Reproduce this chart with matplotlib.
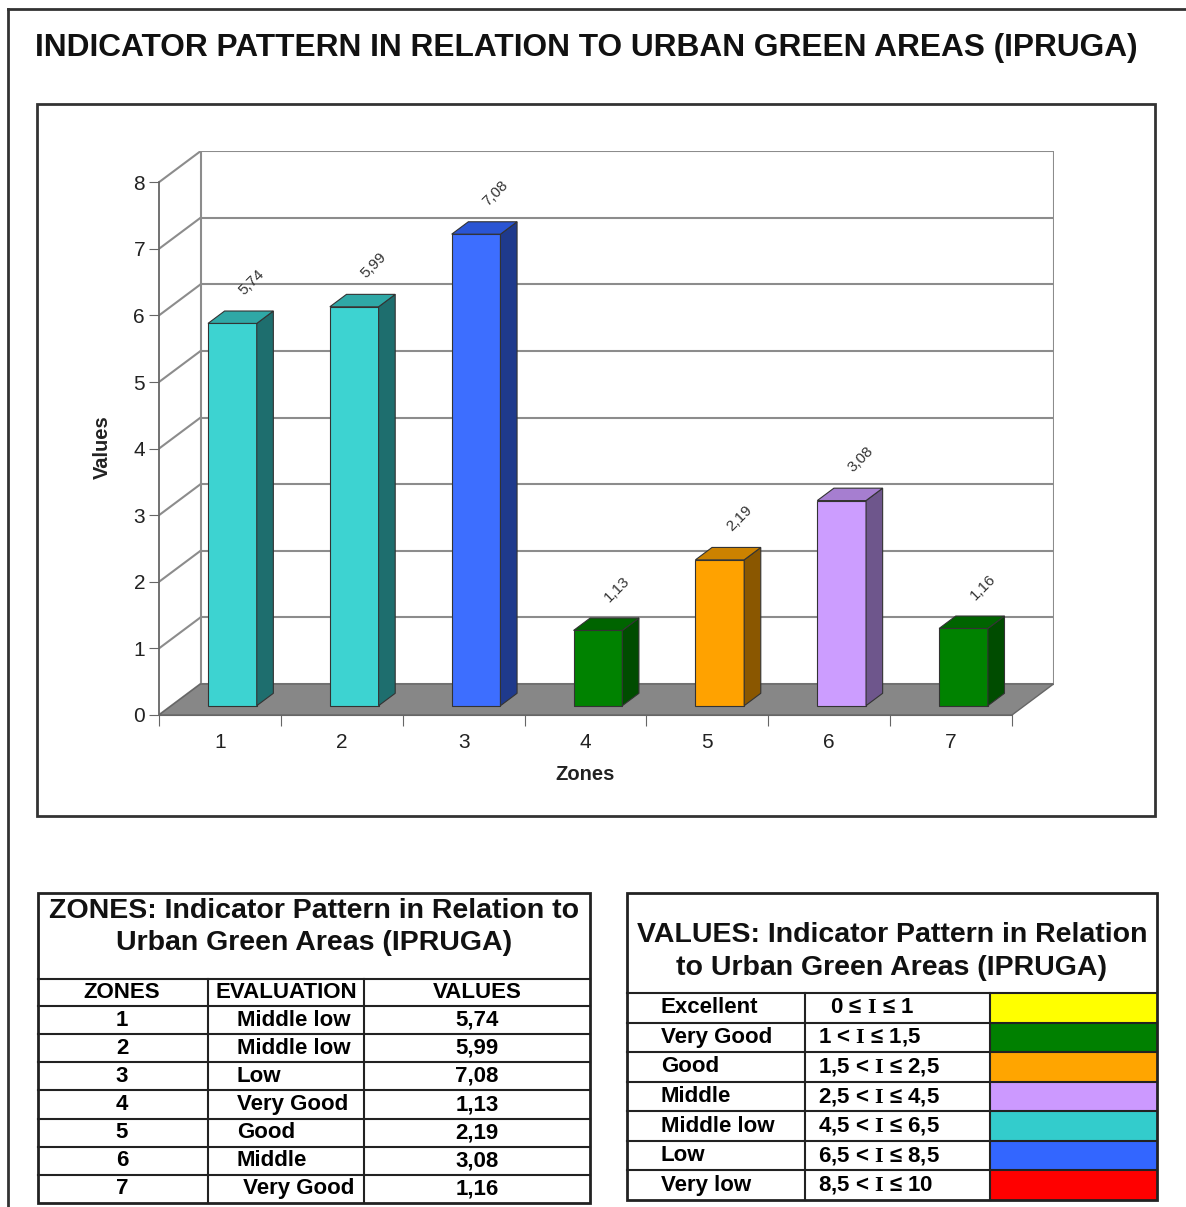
import numpy as np
import matplotlib
matplotlib.use("Agg")
import matplotlib.pyplot as plt
from matplotlib.patches import Polygon, Rectangle

plt.rcParams['font.family'] = ['Liberation Sans', 'DejaVu Sans']
plt.rcParams['mathtext.fontset'] = 'custom'
plt.rcParams['mathtext.bf'] = 'Liberation Serif:bold'

# ---- data ----
zones = [1, 2, 3, 4, 5, 6, 7]
values = [5.74, 5.99, 7.08, 1.13, 2.19, 3.08, 1.16]
evaluation = ["Middle low", "Middle low", "Low", "Very Good", "Good", "Middle", " Very Good"]
front_col = ["#3dd3d1", "#3dd3d1", "#3d6eff", "#008200", "#ffa200", "#cc9dff", "#008200"]
side_col = ["#1e6e6e", "#1e6e6e", "#1f3a8c", "#004c00", "#8a5700", "#6e568c", "#004c00"]
top_col = ["#2fa8a6", "#2fa8a6", "#2a55d4", "#006400", "#cc8200", "#a67ed0", "#006400"]

classes = ["Excellent", "Very Good", "Good", "Middle", "Middle low", "Low", "Very low"]
ranges = [r"  0 ≤ $\mathbf{I}$ ≤ 1", r"1 < $\mathbf{I}$ ≤ 1,5", r"1,5 < $\mathbf{I}$ ≤ 2,5",
          r"2,5 < $\mathbf{I}$ ≤ 4,5", r"4,5 < $\mathbf{I}$ ≤ 6,5", r"6,5 < $\mathbf{I}$ ≤ 8,5",
          r"8,5 < $\mathbf{I}$ ≤ 10"]
class_col = ["#ffff00", "#008000", "#ffa500", "#cc99ff", "#33cccc", "#3366ff", "#ff0000"]

W, H = 1186, 1207
fig = plt.figure(figsize=(W / 100, H / 100), dpi=100)

# overlay in pixel coords for frames and tables
ov = fig.add_axes([0, 0, 1, 1], zorder=0)
ov.set_xlim(0, W)
ov.set_ylim(H, 0)
ov.axis('off')

# outer frame (top + left)
ov.plot([8, W], [9, 9], color='#333', lw=2)
ov.plot([8, 8], [9, H], color='#333', lw=2)
ov.text(35, 48, "INDICATOR PATTERN IN RELATION TO URBAN GREEN AREAS (IPRUGA)",
        fontsize=22.8, fontweight='bold', va='center', ha='left', color='#111')
ov.add_patch(Rectangle((37, 104), 1155 - 37, 816 - 104, fill=False, ec='#333', lw=2))

# ---- 3d-look bar chart ----
x0px, x1px, y0px, ppu = 159, 1012, 715, 66.6
ppc = (x1px - x0px) / 7.0
ox = 41.5 / ppc      # depth offset in category units
oy = 31.0 / ppu      # depth offset in value units
f0, f1 = 0.3, 0.7
bw = 0.4
ymax = 8

ax = fig.add_axes([x0px / W, (H - y0px) / H, (x1px + 41.5 - x0px) / W, (ymax * ppu + 31) / H], zorder=1)
ax.set_xlim(0.5, 7.5 + ox)
ax.set_ylim(0, ymax + oy)
ax.patch.set_alpha(0)

grid_c = '#8c8c8c'
for v in range(ymax + 1):
    ax.plot([0.5 + ox, 7.5 + ox], [v + oy, v + oy], color=grid_c, lw=1.5, zorder=1)
    ax.plot([0.5, 0.5 + ox], [v, v + oy], color=grid_c, lw=1.5, zorder=1)
ax.plot([0.5 + ox, 0.5 + ox], [oy, ymax + oy], color=grid_c, lw=1.5, zorder=1)
ax.plot([7.5 + ox, 7.5 + ox], [oy, ymax + oy], color=grid_c, lw=1.5, zorder=1)

floor = Polygon([(0.5, 0), (7.5, 0), (7.5 + ox, oy), (0.5 + ox, oy)],
                closed=True, fc='#878787', ec='#666', lw=1, zorder=2)
ax.add_patch(floor)

xs = np.array(zones, dtype=float)
fx = xs + f0 * ox
fy = f0 * oy
dx, dy = (f1 - f0) * ox, (f1 - f0) * oy
ax.bar(fx, values, width=bw, bottom=fy, color=front_col, edgecolor='#333', lw=0.8, zorder=4)
for i, v in enumerate(values):
    r = fx[i] + bw / 2
    l = fx[i] - bw / 2
    t = v + fy
    ax.add_patch(Polygon([(r, fy), (r + dx, fy + dy), (r + dx, t + dy), (r, t)],
                         fc=side_col[i], ec='#333', lw=0.8, zorder=4))
    ax.add_patch(Polygon([(l, t), (r, t), (r + dx, t + dy), (l + dx, t + dy)],
                         fc=top_col[i], ec='#333', lw=0.8, zorder=4))
    ax.text(fx[i] + 0.16, t + 0.62, f"{v:.2f}".replace('.', ','), rotation=45,
            ha='center', va='center', fontsize=11, color='#333', zorder=5)

for s in ['top', 'right']:
    ax.spines[s].set_visible(False)
ax.spines['left'].set_bounds(0, ymax)
ax.spines['bottom'].set_bounds(0.5, 7.5)
ax.spines['left'].set_color('#666')
ax.spines['bottom'].set_color('#666')
ax.spines['left'].set_linewidth(1.3)
ax.set_yticks(range(ymax + 1))
ax.tick_params(axis='y', length=7, color='#666', labelsize=15, pad=3, labelcolor='#222')
ax.set_xticks(np.arange(0.5, 8, 1.0))
ax.set_xticklabels([])
ax.set_xticks(xs, minor=True)
ax.set_xticklabels([str(z) for z in zones], minor=True)
ax.tick_params(axis='x', which='major', length=8, color='#666')
ax.tick_params(axis='x', which='minor', length=0, labelsize=15, pad=13, labelcolor='#222')
ax.set_ylabel("Values", fontsize=14.5, fontweight='bold', color='#222')
ax.yaxis.set_label_coords((112 - x0px) / (x1px + 41.5 - x0px), (y0px - 447) / (ymax * ppu + 31))
ax.set_xlabel("Zones", fontsize=14.5, fontweight='bold', color='#222')
ax.xaxis.set_label_coords((585 - x0px) / (x1px + 41.5 - x0px), (y0px - 765) / (ymax * ppu + 31))

# ---- left table ----
lc = '#222'
L, R, T, B = 38, 590, 893, 1203
cols = [L, 208, 364, R]
hdr_y = 979
rows = np.linspace(1006, B, len(zones) + 1)
ov.add_patch(Rectangle((L, T), R - L, B - T, fill=False, ec=lc, lw=2))
ov.plot([L, R], [hdr_y, hdr_y], color=lc, lw=1.5)
for yv in rows[:-1]:
    ov.plot([L, R], [yv, yv], color=lc, lw=1.5)
for xv in cols[1:-1]:
    ov.plot([xv, xv], [hdr_y, B], color=lc, lw=1.5)
ov.text((L + R) / 2, 911, "ZONES: Indicator Pattern in Relation to", fontsize=20.5,
        fontweight='bold', ha='center', va='center', color='#111')
ov.text((L + R) / 2, 943, "Urban Green Areas (IPRUGA)", fontsize=20.5,
        fontweight='bold', ha='center', va='center', color='#111')
hy = (hdr_y + rows[0]) / 2
ov.text(122, hy, "ZONES", fontsize=16, fontweight='bold', ha='center', va='center')
ov.text(286, hy, "EVALUATION", fontsize=16, fontweight='bold', ha='center', va='center')
ov.text(477, hy, "VALUES", fontsize=16, fontweight='bold', ha='center', va='center')
for i in range(len(zones)):
    cy = (rows[i] + rows[i + 1]) / 2
    ov.text(122, cy, str(zones[i]), fontsize=16, fontweight='bold', ha='center', va='center')
    ov.text(237, cy, evaluation[i], fontsize=16, fontweight='bold', ha='left', va='center')
    ov.text(477, cy, f"{values[i]:.2f}".replace('.', ','), fontsize=16, fontweight='bold',
            ha='center', va='center')

# ---- right table ----
L2, R2, T2, B2 = 627, 1157, 893, 1200
c1, c2 = 805, 990
h2 = 993
rows2 = np.linspace(h2, B2, len(classes) + 1)
for i in range(len(classes)):
    ov.add_patch(Rectangle((c2, rows2[i]), R2 - c2, rows2[i + 1] - rows2[i],
                           fc=class_col[i], ec='none'))
ov.add_patch(Rectangle((L2, T2), R2 - L2, B2 - T2, fill=False, ec=lc, lw=2))
for yv in rows2[:-1]:
    ov.plot([L2, R2], [yv, yv], color=lc, lw=1.5)
for xv in [c1, c2]:
    ov.plot([xv, xv], [h2, B2], color=lc, lw=1.5)
ov.text((L2 + R2) / 2, 935, "VALUES: Indicator Pattern in Relation", fontsize=20.5,
        fontweight='bold', ha='center', va='center', color='#111')
ov.text((L2 + R2) / 2, 968, "to Urban Green Areas (IPRUGA)", fontsize=20.5,
        fontweight='bold', ha='center', va='center', color='#111')
for i in range(len(classes)):
    cy = (rows2[i] + rows2[i + 1]) / 2
    ov.text(661, cy, classes[i], fontsize=16, fontweight='bold', ha='left', va='center')
    ov.text(818, cy, ranges[i], fontsize=16, fontweight='bold', ha='left', va='center')

fig.savefig("out.png", dpi=100)
